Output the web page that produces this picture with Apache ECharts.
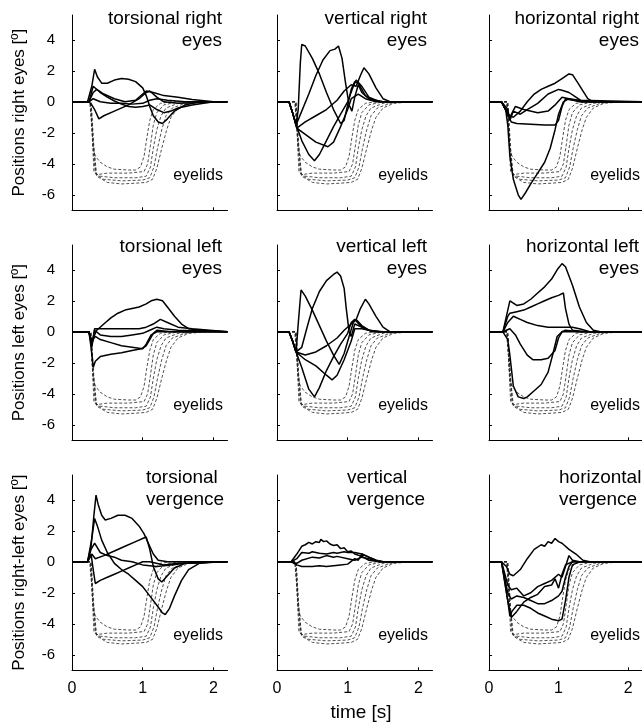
<!DOCTYPE html>
<html><head><meta charset="utf-8">
<script src="https://cdn.jsdelivr.net/npm/echarts@6/dist/echarts.min.js"></script>
<style>html,body{margin:0;padding:0;background:#fff}#c{width:642px;height:724px}</style>
</head><body><div id="c"></div>
<script>
// ---------- DATA: [time (s), position (deg)] ----------
const timeTicks = [0, 1, 2];
const posTicks = [-6, -4, -2, 0, 2, 4];

// eyelid traces (dashed), same blinks in every panel
const eyelid1 = [[0,0],[0.25,0],[0.28,-1.5],[0.3,-3.0],[0.33,-3.5],[0.4,-3.9],[0.5,-4.2],[0.6,-4.35],[0.8,-4.4],[0.9,-4.4],[0.97,-4.2],[1.02,-3.5],[1.06,-2.3],[1.1,-1.2],[1.15,-0.5],[1.25,-0.1],[1.4,0],[2.2,0]];
const eyelid2 = [[0,0],[0.26,0],[0.29,-2.5],[0.31,-4.5],[0.35,-4.7],[0.5,-4.6],[0.8,-4.6],[1.02,-4.5],[1.07,-4.0],[1.11,-2.8],[1.15,-1.5],[1.2,-0.7],[1.3,-0.2],[1.5,0],[2.2,0]];
const eyelid3 = [[0,0],[0.26,0],[0.3,-3.0],[0.33,-4.6],[0.4,-4.8],[0.6,-4.9],[0.9,-4.9],[1.05,-4.8],[1.11,-4.2],[1.15,-3.0],[1.2,-1.8],[1.26,-0.9],[1.33,-0.4],[1.5,-0.1],[1.7,0],[2.2,0]];
const eyelid4 = [[0,0],[0.27,0],[0.3,-2.5],[0.34,-4.7],[0.45,-5.0],[0.7,-5.1],[1.0,-5.05],[1.1,-4.9],[1.16,-4.2],[1.21,-3.0],[1.27,-1.8],[1.33,-0.9],[1.42,-0.4],[1.6,-0.1],[1.8,0],[2.2,0]];
const eyelid5 = [[0,0],[0.27,0],[0.31,-3.0],[0.35,-4.8],[0.5,-5.2],[0.7,-5.3],[0.9,-5.25],[1.05,-5.2],[1.14,-5.0],[1.2,-4.3],[1.27,-3.0],[1.34,-1.8],[1.4,-1.0],[1.5,-0.4],[1.65,-0.1],[1.9,0],[2.2,0]];

// torsional right eyes
const torsR1 = [[0,0],[0.22,0],[0.28,1.0],[0.32,2.1],[0.36,1.6],[0.42,1.2],[0.5,1.2],[0.6,1.4],[0.7,1.5],[0.8,1.45],[0.9,1.3],[1.0,0.9],[1.05,0.4],[1.1,-0.3],[1.15,-0.9],[1.22,-1.3],[1.28,-1.4],[1.35,-1.1],[1.45,-0.6],[1.6,-0.2],[1.8,0],[2.2,0]];
const torsR2 = [[0,0],[0.24,0],[0.3,1.0],[0.4,0.6],[0.5,0.3],[0.6,0.05],[0.7,-0.15],[0.8,-0.3],[0.9,-0.35],[1.0,-0.3],[1.1,-0.2],[1.2,-0.5],[1.3,-0.7],[1.4,-0.6],[1.5,-0.4],[1.7,-0.2],[2.0,0],[2.2,0]];
const torsR3 = [[0,0],[0.24,0],[0.3,0.6],[0.35,0.8],[0.45,0.5],[0.6,0.2],[0.75,0],[0.9,0.1],[1.0,0.5],[1.05,0.7],[1.15,0.6],[1.3,0.4],[1.5,0.3],[1.7,0.15],[2.0,0],[2.2,0]];
const torsR4 = [[0,0],[0.24,0],[0.28,-0.2],[0.32,-0.5],[0.38,-1.1],[0.45,-0.9],[0.6,-0.6],[0.8,-0.2],[0.95,0.2],[1.05,0.6],[1.1,0.7],[1.2,0.3],[1.3,0],[1.5,-0.1],[2.2,0]];
const torsR5 = [[0,0],[0.24,0],[0.3,0.2],[0.4,0],[0.55,-0.1],[0.7,-0.1],[0.85,-0.15],[1.0,-0.1],[1.1,0.1],[1.2,0.2],[1.35,0.1],[1.6,0],[2.2,0]];

// vertical right eyes
const vertR1 = [[0,0],[0.17,0],[0.22,-0.7],[0.27,-1.5],[0.3,-0.5],[0.33,2.5],[0.35,3.7],[0.4,3.6],[0.5,2.8],[0.6,1.8],[0.7,0.6],[0.8,-0.5],[0.9,-1.4],[0.95,-1.2],[1.0,-0.2],[1.05,0.8],[1.1,1.3],[1.15,1.2],[1.25,0.4],[1.35,0.1],[1.5,0],[2.2,0]];
const vertR2 = [[0,0],[0.17,0],[0.22,-0.7],[0.27,-1.5],[0.35,-0.6],[0.45,0.5],[0.55,1.7],[0.65,2.7],[0.75,3.3],[0.82,3.4],[0.87,3.6],[0.92,2.8],[0.97,1.2],[1.02,-0.2],[1.06,-0.6],[1.1,0.3],[1.15,1.1],[1.2,0.6],[1.3,0.2],[1.5,0],[2.2,0]];
const vertR3 = [[0,0],[0.17,0],[0.22,-0.7],[0.28,-1.6],[0.35,-2.5],[0.45,-3.4],[0.53,-3.8],[0.6,-3.4],[0.7,-2.5],[0.8,-1.6],[0.9,-0.8],[1.0,0],[1.08,1.0],[1.12,1.4],[1.2,1.0],[1.3,0.3],[1.45,0],[2.2,0]];
const vertR4 = [[0,0],[0.17,0],[0.22,-0.7],[0.28,-1.7],[0.4,-2.1],[0.55,-2.6],[0.72,-2.9],[0.8,-2.6],[0.9,-1.6],[1.0,-0.5],[1.05,0.2],[1.15,0.5],[1.25,0.2],[1.4,0],[2.2,0]];
const vertR5 = [[0,0],[0.17,0],[0.22,-0.7],[0.28,-1.7],[0.4,-1.3],[0.55,-0.9],[0.7,-0.5],[0.85,0.1],[0.95,0.7],[1.05,1.1],[1.12,1.0],[1.18,1.7],[1.23,2.2],[1.3,1.8],[1.4,0.9],[1.5,0.2],[1.6,0],[2.2,0]];

// horizontal right eyes
const horR1 = [[0,0],[0.18,0],[0.24,-0.5],[0.27,-1.5],[0.3,-3.5],[0.35,-5.0],[0.42,-6.0],[0.46,-6.3],[0.52,-5.9],[0.6,-5.3],[0.7,-4.6],[0.8,-3.9],[0.88,-3.0],[0.95,-1.8],[1.0,-0.8],[1.07,0],[1.15,0.2],[1.3,0.1],[2.2,0]];
const horR2 = [[0,0],[0.18,0],[0.27,-0.8],[0.35,-1.0],[0.45,-0.6],[0.55,0],[0.65,0.5],[0.75,0.8],[0.85,1.0],[0.95,1.2],[1.05,1.5],[1.15,1.8],[1.2,1.75],[1.28,1.2],[1.35,0.7],[1.42,0.2],[1.5,0],[2.2,0]];
const horR3 = [[0,0],[0.18,0],[0.27,-0.5],[0.3,-1.2],[0.35,-0.6],[0.45,-0.8],[0.55,-0.5],[0.7,-0.1],[0.85,0.5],[1.0,0.8],[1.05,0.75],[1.15,0.6],[1.25,0.3],[1.35,0],[2.2,0]];
const horR4 = [[0,0],[0.18,0],[0.27,-0.8],[0.32,-1.3],[0.4,-1.4],[0.6,-1.45],[0.8,-1.5],[0.95,-1.5],[1.0,-1.2],[1.05,-0.3],[1.1,0.2],[1.2,0.1],[1.4,0],[2.2,0]];
const horR5 = [[0,0],[0.18,0],[0.3,-1.0],[0.38,-0.3],[0.5,-0.5],[0.7,-0.7],[0.85,-0.6],[0.95,-0.2],[1.05,0.3],[1.15,0.2],[1.3,0],[2.2,0]];

// torsional left eyes
const torsL1 = [[0,0],[0.24,0],[0.28,-0.8],[0.31,-0.3],[0.35,0.1],[0.45,0.5],[0.55,0.9],[0.65,1.2],[0.75,1.4],[0.85,1.5],[0.95,1.6],[1.05,1.8],[1.12,2.0],[1.2,2.1],[1.28,2.0],[1.35,1.6],[1.45,1.0],[1.55,0.5],[1.65,0.2],[1.8,0.1],[2.2,0]];
const torsL2 = [[0,0],[0.24,0],[0.28,-1.0],[0.32,0.2],[0.4,0.2],[0.6,0.2],[0.8,0.2],[0.95,0.2],[1.05,0.3],[1.15,0.5],[1.25,0.8],[1.35,0.6],[1.5,0.3],[1.7,0.2],[2.2,0]];
const torsL3 = [[0,0],[0.24,0],[0.28,-0.8],[0.32,0.1],[0.4,-0.2],[0.55,-0.3],[0.7,-0.3],[0.85,-0.2],[1.0,-0.1],[1.1,0.1],[1.2,0.3],[1.3,0.2],[1.5,0.1],[2.2,0]];
const torsL4 = [[0,0],[0.24,0],[0.28,-0.6],[0.33,-0.3],[0.4,-0.5],[0.55,-0.7],[0.7,-0.9],[0.85,-1.0],[1.0,-1.1],[1.05,-0.8],[1.12,-0.2],[1.2,0],[1.4,0],[2.2,0]];
const torsL5 = [[0,0],[0.24,0],[0.27,-1.0],[0.3,-2.3],[0.33,-1.9],[0.4,-1.6],[0.55,-1.45],[0.7,-1.35],[0.85,-1.2],[0.98,-1.1],[1.05,-0.9],[1.1,-0.5],[1.15,-0.1],[1.2,0.1],[1.4,0],[2.2,0]];

// vertical left eyes
const vertL1 = [[0,0],[0.17,0],[0.22,-0.6],[0.27,-1.3],[0.3,0.5],[0.34,2.7],[0.4,2.3],[0.5,1.4],[0.6,0.4],[0.7,-0.6],[0.8,-1.5],[0.88,-2.1],[0.95,-1.4],[1.02,-0.3],[1.08,0.6],[1.12,0.8],[1.2,0.4],[1.3,0.1],[1.45,0],[2.2,0]];
const vertL2 = [[0,0],[0.17,0],[0.22,-0.6],[0.27,-1.3],[0.35,-1.0],[0.42,0.2],[0.5,1.5],[0.6,2.6],[0.7,3.3],[0.8,3.7],[0.85,3.85],[0.9,3.6],[0.95,2.8],[0.98,1.5],[1.02,0],[1.05,-0.3],[1.1,0.5],[1.2,0.3],[1.3,0.1],[1.5,0],[2.2,0]];
const vertL3 = [[0,0],[0.17,0],[0.22,-0.6],[0.27,-1.3],[0.35,-2.3],[0.45,-3.7],[0.53,-4.2],[0.6,-3.6],[0.7,-2.5],[0.8,-1.6],[0.9,-0.8],[1.0,-0.1],[1.05,0.6],[1.1,0.8],[1.2,0.3],[1.35,0],[2.2,0]];
const vertL4 = [[0,0],[0.17,0],[0.22,-0.6],[0.27,-1.3],[0.4,-1.8],[0.55,-2.2],[0.7,-2.8],[0.78,-3.1],[0.85,-2.8],[0.95,-1.8],[1.05,-0.6],[1.1,0.2],[1.2,0.2],[1.4,0],[2.2,0]];
const vertL5 = [[0,0],[0.17,0],[0.22,-0.6],[0.27,-1.3],[0.4,-1.5],[0.55,-1.3],[0.7,-0.9],[0.85,-0.4],[0.95,0.1],[1.05,0.5],[1.12,0.8],[1.18,1.5],[1.25,2.1],[1.3,1.8],[1.4,1.0],[1.5,0.3],[1.6,0],[2.2,0]];

// horizontal left eyes
const horL1 = [[0,0],[0.2,0],[0.25,1.0],[0.3,2.0],[0.4,1.7],[0.5,1.8],[0.6,2.1],[0.7,2.5],[0.8,2.9],[0.9,3.4],[0.98,4.0],[1.05,4.4],[1.1,4.2],[1.2,3.0],[1.3,1.6],[1.4,0.6],[1.5,0.1],[1.6,0],[2.2,0]];
const horL2 = [[0,0],[0.2,0],[0.27,1.0],[0.3,1.2],[0.4,1.3],[0.5,1.4],[0.6,1.6],[0.7,1.8],[0.8,2.0],[0.9,2.2],[1.0,2.35],[1.07,2.5],[1.1,1.5],[1.15,0.5],[1.2,0.1],[1.4,0],[2.2,0]];
const horL3 = [[0,0],[0.2,0],[0.27,0.6],[0.35,1.0],[0.45,0.8],[0.55,0.6],[0.7,0.4],[0.85,0.3],[1.0,0.3],[1.1,0.3],[1.2,0.3],[1.3,0.2],[1.45,0],[2.2,0]];
const horL4 = [[0,0],[0.2,0],[0.3,0.2],[0.38,-0.2],[0.45,-0.8],[0.55,-1.5],[0.63,-1.8],[0.75,-1.8],[0.85,-1.7],[0.95,-1.2],[1.0,-0.4],[1.05,0],[1.1,0.1],[1.3,0],[2.2,0]];
const horL5 = [[0,0],[0.2,0],[0.27,-0.5],[0.3,-1.5],[0.35,-3.5],[0.42,-4.2],[0.5,-4.3],[0.55,-4.2],[0.65,-3.8],[0.75,-3.4],[0.85,-2.6],[0.92,-1.4],[0.98,-0.3],[1.05,0],[2.2,0]];

// torsional vergence
const torsV1 = [[0,0],[0.22,0],[0.27,1.0],[0.31,3.0],[0.34,4.3],[0.37,3.7],[0.42,3.0],[0.47,2.7],[0.55,2.8],[0.65,3.0],[0.75,3.0],[0.85,2.8],[0.95,2.3],[1.02,1.8],[1.08,1.2],[1.15,0.5],[1.22,0.1],[1.35,0],[2.2,0]];
const torsV2 = [[0,0],[0.22,0],[0.28,1.5],[0.32,2.8],[0.36,2.3],[0.42,1.4],[0.5,0.6],[0.6,-0.1],[0.7,-0.5],[0.8,-0.8],[0.9,-1.2],[1.0,-1.6],[1.1,-2.2],[1.2,-2.8],[1.28,-3.3],[1.32,-3.4],[1.38,-3.0],[1.45,-2.2],[1.55,-1.2],[1.65,-0.5],[1.8,-0.1],[2.0,0],[2.2,0]];
const torsV3 = [[0,0],[0.22,0],[0.28,0.5],[0.33,0.2],[0.45,0.4],[0.6,0.7],[0.75,1.0],[0.9,1.3],[1.0,1.5],[1.05,1.6],[1.1,0.8],[1.15,-0.3],[1.22,-1.1],[1.27,-1.3],[1.35,-0.9],[1.45,-0.4],[1.6,-0.1],[2.2,0]];
const torsV4 = [[0,0],[0.22,0],[0.27,0.5],[0.3,-0.5],[0.33,-1.4],[0.4,-1.2],[0.5,-1.0],[0.6,-0.8],[0.7,-0.6],[0.8,-0.4],[0.9,-0.2],[1.0,0],[1.1,0],[1.3,-0.2],[1.5,-0.1],[2.2,0]];
const torsV5 = [[0,0],[0.22,0],[0.27,0.8],[0.32,1.2],[0.4,0.6],[0.5,0.4],[0.6,0.3],[0.7,0.1],[0.85,0],[1.0,-0.2],[1.2,-0.3],[1.4,-0.2],[1.6,-0.1],[2.2,0]];

// vertical vergence
const vertV1 = [[0,0],[0.2,0],[0.28,0.5],[0.35,1.0],[0.4,1.1],[0.45,1.25],[0.5,1.15],[0.55,1.3],[0.6,1.25],[0.62,1.45],[0.66,1.3],[0.7,1.35],[0.75,1.15],[0.8,1.05],[0.85,1.1],[0.9,0.85],[0.95,0.9],[1.0,0.65],[1.05,0.7],[1.1,0.5],[1.2,0.35],[1.3,0.1],[1.45,0],[2.2,0]];
const vertV2 = [[0,0],[0.2,0],[0.28,0.2],[0.35,0.6],[0.45,0.55],[0.5,0.65],[0.6,0.55],[0.7,0.5],[0.8,0.6],[0.85,0.55],[0.95,0.65],[1.0,0.6],[1.1,0.6],[1.2,0.5],[1.3,0.3],[1.4,0.1],[1.5,0],[2.2,0]];
const vertV3 = [[0,0],[0.2,0],[0.28,-0.1],[0.35,0.1],[0.5,0.3],[0.6,0.25],[0.7,0.4],[0.8,0.3],[0.85,0.35],[1.0,0.2],[1.1,0.1],[1.2,0.3],[1.3,0.2],[1.45,0],[2.2,0]];
const vertV4 = [[0,0],[0.2,0],[0.28,-0.2],[0.35,-0.3],[0.5,-0.3],[0.6,-0.25],[0.7,-0.3],[0.9,-0.2],[1.0,-0.15],[1.1,0.2],[1.15,0.1],[1.2,0.5],[1.3,0.3],[1.4,0.1],[1.5,0],[2.2,0]];

// horizontal vergence
const horV1 = [[0,0],[0.18,0],[0.25,-0.3],[0.3,-0.8],[0.35,-0.9],[0.45,-0.5],[0.55,0.2],[0.65,0.8],[0.75,1.1],[0.8,1.0],[0.85,1.3],[0.9,1.2],[0.95,1.5],[1.0,1.3],[1.05,1.2],[1.15,0.8],[1.25,0.5],[1.35,0.1],[1.45,0],[2.2,0]];
const horV2 = [[0,0],[0.18,0],[0.27,-1.5],[0.32,-1.8],[0.4,-1.7],[0.5,-2.2],[0.6,-2.0],[0.7,-1.6],[0.8,-1.4],[0.9,-1.2],[1.0,-0.8],[1.05,-1.0],[1.1,-0.3],[1.15,0.4],[1.2,0.1],[1.3,0],[2.2,0]];
const horV3 = [[0,0],[0.18,0],[0.27,-2.0],[0.32,-2.4],[0.4,-2.2],[0.5,-2.3],[0.6,-2.5],[0.7,-2.7],[0.8,-2.7],[0.9,-2.5],[1.0,-2.2],[1.05,-1.9],[1.1,-1.0],[1.15,-0.3],[1.2,0],[2.2,0]];
const horV4 = [[0,0],[0.18,0],[0.27,-2.5],[0.3,-3.5],[0.33,-3.2],[0.4,-2.8],[0.5,-2.8],[0.6,-3.0],[0.7,-3.3],[0.8,-3.5],[0.9,-3.7],[1.0,-3.8],[1.05,-3.7],[1.1,-2.5],[1.15,-1.0],[1.2,-0.2],[1.3,0],[2.2,0]];
const horV5 = [[0,0],[0.18,0],[0.27,-2.5],[0.32,-3.6],[0.4,-3.2],[0.5,-2.6],[0.6,-2.3],[0.7,-2.1],[0.8,-1.6],[0.9,-1.5],[0.95,-1.1],[1.0,-1.7],[1.05,-0.8],[1.1,-0.2],[1.2,0],[2.2,0]];

// texts
const panelTitles = [
  ['torsional right','eyes'], ['vertical right','eyes'], ['horizontal right','eyes'],
  ['torsional left','eyes'], ['vertical left','eyes'], ['horizontal left','eyes'],
  ['torsional','vergence'], ['vertical','vergence'], ['horizontal','vergence']
];
const rowNames = ['Positions right eyes [º]', 'Positions left eyes [º]', 'Positions right-left eyes [º]'];
const eyelidLabel = 'eyelids';
const xName = 'time [s]';

const panelTraces = [
  [torsR1, torsR2, torsR3, torsR4, torsR5],
  [vertR1, vertR2, vertR3, vertR4, vertR5],
  [horR1, horR2, horR3, horR4, horR5],
  [torsL1, torsL2, torsL3, torsL4, torsL5],
  [vertL1, vertL2, vertL3, vertL4, vertL5],
  [horL1, horL2, horL3, horL4, horL5],
  [torsV1, torsV2, torsV3, torsV4, torsV5],
  [vertV1, vertV2, vertV3, vertV4],
  [horV1, horV2, horV3, horV4, horV5]
];
const eyelids = [eyelid1, eyelid2, eyelid3, eyelid4, eyelid5];

// ---------- LAYOUT ----------
const FONT = '"Liberation Sans", Arial, Helvetica, sans-serif';
const colX0 = [72, 277, 489];
const rowTop = [15, 245, 475];
const W = 155.5, H = 195.3;
const yMin = -7, yMax = 5.6;
const zeroY = r => rowTop[r] + (yMax) * H / (yMax - yMin);

const grid = [], xAxis = [], yAxis = [], series = [], graphic = [];
for (let r = 0; r < 3; r++) {
  for (let c = 0; c < 3; c++) {
    const i = r * 3 + c;
    grid.push({ left: colX0[c], top: rowTop[r], width: W, height: H, containLabel: false });
    xAxis.push({
      type: 'value', gridIndex: i, min: 0, max: 2.2,
      axisLine: { show: true, onZero: false, lineStyle: { color: '#000', width: 1 } },
      axisTick: { show: true, inside: true, length: 3, customValues: timeTicks, lineStyle: { color: '#000' } },
      axisLabel: { show: r === 2, customValues: timeTicks, color: '#000', fontSize: 16, fontFamily: FONT, margin: 10 },
      splitLine: { show: false }
    });
    yAxis.push({
      type: 'value', gridIndex: i, min: yMin, max: yMax,
      axisLine: { show: true, onZero: false, lineStyle: { color: '#000', width: 1 } },
      axisTick: { show: true, inside: true, length: 3, customValues: posTicks, lineStyle: { color: '#000' } },
      axisLabel: { show: c === 0, customValues: posTicks, color: '#000', fontSize: 15, fontFamily: FONT, margin: 17 },
      splitLine: { show: false },
      name: c === 0 ? rowNames[r] : '',
      nameLocation: 'middle', nameGap: 44, nameRotate: 90,
      nameTextStyle: { color: '#000', fontSize: 17, fontFamily: FONT }
    });
    eyelids.forEach(d => series.push({
      type: 'line', xAxisIndex: i, yAxisIndex: i, data: d, showSymbol: false, silent: true,
      lineStyle: { color: '#222', width: 0.8, type: [3, 2] }, z: 1
    }));
    panelTraces[i].forEach(d => series.push({
      type: 'line', xAxisIndex: i, yAxisIndex: i, data: d, showSymbol: false, silent: true,
      lineStyle: { color: '#000', width: 1.5 }, z: 2
    }));
    // titles
    const t = panelTitles[i];
    const base1 = [28, 256, 487][r], base2 = [50, 278, 509][r];
    if (r < 2) {
      const xr = colX0[c] + 150;
      graphic.push({ type: 'text', x: xr, y: base1, style: { text: t[0], fill: '#000', font: '19px ' + FONT, textAlign: 'right', textVerticalAlign: 'bottom' } });
      graphic.push({ type: 'text', x: xr, y: base2, style: { text: t[1], fill: '#000', font: '19px ' + FONT, textAlign: 'right', textVerticalAlign: 'bottom' } });
    } else {
      const xl = colX0[c] + [74, 70, 70][c];
      graphic.push({ type: 'text', x: xl, y: base1, style: { text: t[0], fill: '#000', font: '19px ' + FONT, textAlign: 'left', textVerticalAlign: 'bottom' } });
      graphic.push({ type: 'text', x: xl, y: base2, style: { text: t[1], fill: '#000', font: '19px ' + FONT, textAlign: 'left', textVerticalAlign: 'bottom' } });
    }
    graphic.push({ type: 'text', x: colX0[c] + 151, y: zeroY(r) + 82, style: { text: eyelidLabel, fill: '#000', font: '16px ' + FONT, textAlign: 'right', textVerticalAlign: 'bottom' } });
  }
}
graphic.push({ type: 'text', x: 361, y: 724 - 2, style: { text: xName, fill: '#000', font: '19px ' + FONT, textAlign: 'center', textVerticalAlign: 'bottom' } });

const chart = echarts.init(document.getElementById('c'), null, { renderer: 'canvas' });
chart.setOption({ animation: false, backgroundColor: '#fff', grid, xAxis, yAxis, series, graphic });
</script></body></html>
